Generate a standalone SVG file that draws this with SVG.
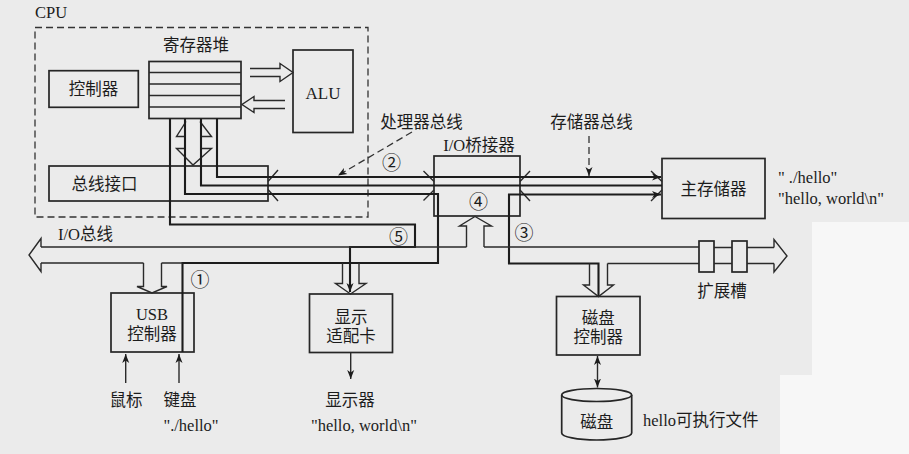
<svg xmlns="http://www.w3.org/2000/svg" width="909" height="454" viewBox="0 0 909 454">
<style>
 .box{fill:none;stroke:#262626;stroke-width:1.7}
 .ln{fill:none;stroke:#2a2a2a;stroke-width:1.4}
 .th{fill:none;stroke:#1c1c1c;stroke-width:2.1}
 .dash{fill:none;stroke:#333;stroke-width:1.3;stroke-dasharray:7 4}
 text{font-family:"Liberation Serif","Noto Sans CJK SC",serif;font-size:16.5px;fill:#1c1c1c}
 .c{text-anchor:middle}
 .n{font-size:19px}
</style>
<defs>
 <marker id="ah" markerWidth="10" markerHeight="8" refX="9" refY="4" orient="auto-start-reverse" markerUnits="userSpaceOnUse">
  <path d="M0,0.5 L9,4 L0,7.5 L2.5,4 z" fill="#1c1c1c"/>
 </marker>
</defs>
<rect width="909" height="454" fill="#ebebeb"/>
<polygon points="812,222 909,222 909,454 780,454 780,375 812,375" fill="#f7f7f7"/>

<g id="cpu">
 <rect class="dash" x="35" y="27.5" width="333" height="189.5"/>
 <text x="35" y="18">CPU</text>
</g>
<g id="register-file">
 <rect class="box" x="149" y="61.5" width="92" height="57"/>
 <path class="ln" d="M149,72.5 H241 M149,84 H241 M149,95.5 H241 M149,107 H241"/>
 <text class="c" x="196" y="51">寄存器堆</text>
</g>
<g id="alu">
 <rect class="box" x="293" y="50" width="60" height="82.5"/>
 <text class="c" x="323" y="99" style="font-size:17px">ALU</text>
</g>
<g id="controller">
 <rect class="box" x="49" y="70.7" width="89.3" height="36.6"/>
 <text class="c" x="93.5" y="94.5">控制器</text>
</g>
<g id="bus-interface">
 <rect class="box" x="49" y="166" width="219" height="35"/>
 <text class="c" x="104.5" y="189.5">总线接口</text>
</g>
<g id="io-bridge">
 <rect class="box" x="434" y="156" width="86" height="60"/>
 <text class="c" x="479" y="151">I/O桥接器</text>
</g>
<g id="main-memory">
 <rect class="box" x="662" y="158.5" width="103" height="60"/>
 <text class="c" x="713.5" y="194.5">主存储器</text>
 <text x="778" y="183">" ./hello"</text>
 <text x="778" y="204">"hello, world\n"</text>
</g>
<g id="usb-controller">
 <rect class="box" x="111" y="293" width="83" height="59"/>
 <text class="c" x="152" y="320">USB</text>
 <text class="c" x="152" y="339.5">控制器</text>
</g>
<g id="display-adapter">
 <rect class="box" x="309.5" y="294" width="83" height="58.5"/>
 <text class="c" x="351" y="323">显示</text>
 <text class="c" x="351" y="341.5">适配卡</text>
</g>
<g id="disk-controller">
 <rect class="box" x="556.5" y="296.5" width="83.5" height="58.5"/>
 <text class="c" x="598.3" y="324">磁盘</text>
 <text class="c" x="598.3" y="343">控制器</text>
</g>
<g id="disk">
 <path class="box" d="M561.7,395 V433 A35,7 0 0 0 631.7,433 V395"/>
 <ellipse class="box" cx="596.7" cy="395" rx="35" ry="6.5"/>
 <text class="c" x="596.7" y="427.5">磁盘</text>
 <text x="643" y="426">hello可执行文件</text>
</g>
<g id="expansion-slots">
 <rect class="box" x="699" y="241" width="15" height="31"/>
 <rect class="box" x="732" y="241" width="15" height="31"/>
 <text class="c" x="722" y="297">扩展槽</text>
</g>
<g id="io-devices">
 <text class="c" x="126" y="406">鼠标</text>
 <text class="c" x="180" y="406">键盘</text>
 <text class="c" x="191" y="431">"./hello"</text>
 <text class="c" x="350" y="406">显示器</text>
 <text class="c" x="364" y="431">"hello, world\n"</text>
</g>
<g id="labels">
 <text class="c" x="421.5" y="128">处理器总线</text>
 <text class="c" x="591.5" y="128">存储器总线</text>
 <text x="58" y="240">I/O总线</text>
 <text class="c n" x="391.5" y="169.5">②</text>
 <text class="c n" x="478.5" y="208.5">④</text>
 <text class="c n" x="398.5" y="243.5">⑤</text>
 <text class="c n" x="524" y="240">③</text>
 <text class="c n" x="200" y="287">①</text>
</g>

<g id="connectors">
 <path class="ln" d="M250,68.5 H280 V63.5 L293,72.5 L280,81.5 V76.5 H250"/>
 <path class="ln" d="M285,100.5 H254 V96.5 L242,104.5 L254,112.5 V108.5 H285"/>
 <path class="ln" d="M185,136.5 H176.5 L186,121.5 M201,136.5 H211.5 L200,121.5"/>
 <path class="ln" d="M185,148.5 H176.5 L193,165 L211.5,148.5 H201"/>
 <path class="ln" d="M278,170 L268,181.5 M268,189.5 L278,201"/>
 <path class="ln" d="M423.5,171 L434,181.5 M434,190 L423.5,200.5"/>
 <path class="ln" d="M530,171 L520,181.5 M520,190 L530,201"/>
 <path class="ln" d="M651,171 L662,181.5 M662,190 L651,201"/>
 <path class="th" d="M185,118.5 V194 H438 V263 H182.5 V352"/>
 <path class="th" d="M201,118.5 V185.5 H662"/>
 <path class="th" d="M217,118.5 V177 H661" marker-end="url(#ah)"/>
 <path class="th" d="M170,118.5 V224.5 H415 V247 H350 V292" marker-end="url(#ah)"/>
 <path class="th" d="M598.5,296 V263.5 H509 V194.5 H661" marker-end="url(#ah)"/>
 <path class="ln" d="M41,247 H466.5 M484,247 H699 M714,247.5 H732 M747,247.5 H774"/>
 <path class="ln" d="M41,263 H143.5 M161.5,263 H182.5 M607.5,263.5 H699 M714,263.5 H732 M747,263.5 H774"/>
 <path class="ln" d="M41,247 V238.5 L29,255 L41,271.5 V263"/>
 <path class="ln" d="M774,247.5 V239.5 L787,256 L774,272 V263.5"/>
 <path class="ln" d="M466.5,247 V226 H459.5 L475,216.5 L491.5,226 H484 V247"/>
 <path class="ln" d="M143.5,263 V286.5 H137 L152,293 L167,286.5 H161.5 V263"/>
 <path class="ln" d="M342.5,263 V283.5 H335.5 L350.5,294 L366,283.5 H359 V263"/>
 <path class="ln" d="M589.5,263.5 V285 H583.5 L598.5,296.5 L613.5,285 H607.5 V263.5"/>
 <path class="ln" d="M125.7,383 V354" marker-end="url(#ah)"/>
 <path class="ln" d="M179,383 V354" marker-end="url(#ah)"/>
 <path class="ln" d="M350.7,353 V379" marker-end="url(#ah)"/>
 <path class="ln" d="M597.5,356 V387.5" marker-start="url(#ah)" marker-end="url(#ah)"/>
 <path class="dash" d="M412,132 L338,175.5" marker-end="url(#ah)"/>
 <path class="dash" d="M589,136 V176" marker-end="url(#ah)"/>
</g>
</svg>
